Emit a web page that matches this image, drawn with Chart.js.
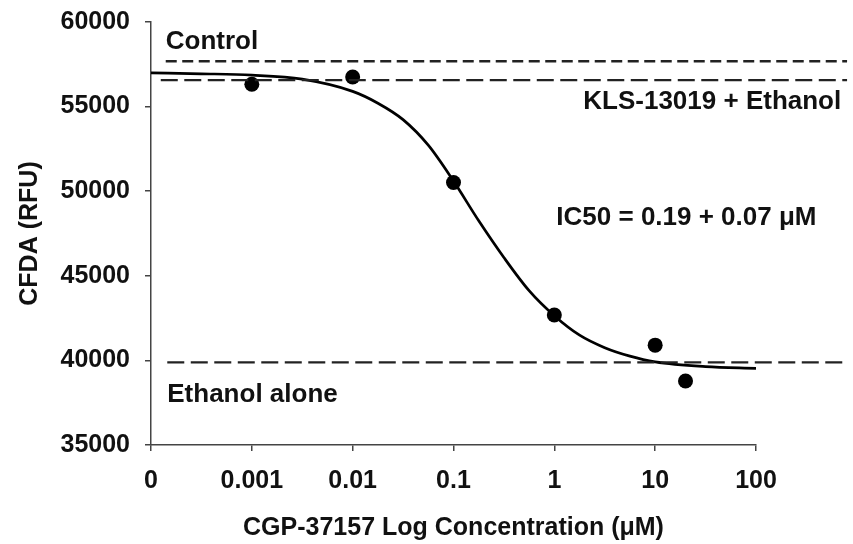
<!DOCTYPE html>
<html>
<head>
<meta charset="utf-8">
<script src="https://cdn.jsdelivr.net/npm/chart.js@4.4.1/dist/chart.umd.min.js"></script>
<style>
    html, body { margin: 0; padding: 0; background: #fff; }
    #wrap { width: 853px; height: 544px; }
</style>
</head>
<body>
<div id="wrap"><canvas id="ic50Chart" width="853" height="544"></canvas></div>
<script>
// concentrations in uM; the "0" dose is plotted one decade below 0.001
const ZERO_DOSE = 0.0001;

const doseConc = [0.001, 0.01, 0.1, 1, 10, 20];
const cfdaValues = [56320, 56750, 50510, 42680, 40900, 38780];

// fitted curve
const fitConc = [ZERO_DOSE, 0.000316, 0.001, 0.00316, 0.01, 0.0178, 0.0316, 0.0562, 0.1, 0.178, 0.316, 0.562, 1, 1.78, 3.16, 5.62, 10, 31.6, 100];
const fitValues = [56990, 56940, 56860, 56620, 55900, 55200, 54230, 52720, 50600, 48250, 46080, 44120, 42640, 41490, 40750, 40250, 39910, 39630, 39530];

// reference levels and how far they run along x
const controlLevel = 57680;
const klsLevel = 56560;
const ethanolLevel = 39880;
const controlSpan = [0.00014, 800];
const klsSpan = [0.000125, 800];
const ethanolSpan = [0.000145, 780];

const xTickValues = [ZERO_DOSE, 0.001, 0.01, 0.1, 1, 10, 100];
const xTickLabels = ['0', '0.001', '0.01', '0.1', '1', '10', '100'];
const yTickValues = [35000, 40000, 45000, 50000, 55000, 60000];

const FONT = '"Liberation Sans", Arial, sans-serif';

const refLabels = {
    id: 'refLabels',
    afterDatasetsDraw(chart) {
        const { ctx, scales: { x, y } } = chart;
        ctx.save();
        ctx.fillStyle = '#111';
        ctx.font = 'bold 26px ' + FONT;
        ctx.textBaseline = 'alphabetic';

        ctx.textAlign = 'left';
        ctx.fillText('Control', x.getPixelForValue(controlSpan[0]), y.getPixelForValue(controlLevel) - 12);
        ctx.fillText('Ethanol alone', x.getPixelForValue(ethanolSpan[0]), y.getPixelForValue(ethanolLevel) + 40);
        ctx.fillText('IC50 = 0.19 + 0.07 \u03BCM', x.getPixelForValue(1) + 2, y.getPixelForValue(48000));

        ctx.textAlign = 'right';
        ctx.fillText('KLS-13019 + Ethanol', x.getPixelForValue(700), y.getPixelForValue(klsLevel) + 29);
        ctx.restore();
    }
};

function refLine(level, span, dash) {
    return {
        label: 'ref',
        data: [{ x: span[0], y: level }, { x: span[1], y: level }],
        borderColor: '#222',
        borderWidth: 2.3,
        borderDash: dash,
        pointRadius: 0,
        fill: false,
        clip: false
    };
}

const ctx = document.getElementById('ic50Chart').getContext('2d');

new Chart(ctx, {
    type: 'line',
    data: {
        datasets: [
            refLine(controlLevel, controlSpan, [11, 5.5]),
            refLine(klsLevel, klsSpan, [17, 6.5]),
            refLine(ethanolLevel, ethanolSpan, [17, 6.5]),
            {
                label: 'Fit',
                data: fitConc.map((c, i) => ({ x: c, y: fitValues[i] })),
                borderColor: '#000',
                borderWidth: 2.7,
                pointRadius: 0,
                cubicInterpolationMode: 'monotone',
                fill: false
            },
            {
                label: 'CFDA',
                data: doseConc.map((c, i) => ({ x: c, y: cfdaValues[i] })),
                showLine: false,
                pointRadius: 7.5,
                pointBackgroundColor: '#000',
                pointBorderColor: '#000',
                pointBorderWidth: 0
            }
        ]
    },
    options: {
        responsive: false,
        animation: false,
        layout: { padding: { left: 0, right: 97, top: 22, bottom: 0 } },
        plugins: {
            legend: { display: false },
            tooltip: { enabled: false }
        },
        scales: {
            x: {
                type: 'logarithmic',
                min: ZERO_DOSE,
                max: 100,
                afterBuildTicks: (s) => { s.ticks = xTickValues.map(v => ({ value: v })); },
                afterFit: (s) => { s.height = 99; s.paddingLeft = 0; s.paddingRight = 0; },
                grid: { drawOnChartArea: false, drawTicks: true, tickLength: 6, color: '#444', lineWidth: 1.5 },
                border: { display: true, color: '#444', width: 1.5 },
                ticks: {
                    autoSkip: false,
                    maxRotation: 0,
                    padding: 15,
                    color: '#111',
                    font: { family: FONT, size: 25, weight: 'bold' },
                    callback: (v, i) => xTickLabels[i]
                },
                title: {
                    display: true,
                    text: 'CGP-37157 Log Concentration (\u03BCM)',
                    color: '#111',
                    font: { family: FONT, size: 25, weight: 'bold' },
                    padding: { top: 0, bottom: 1 }
                }
            },
            y: {
                min: 35000,
                max: 60000,
                afterBuildTicks: (s) => { s.ticks = yTickValues.map(v => ({ value: v })); },
                afterFit: (s) => { s.width = 151; s.paddingTop = 0; s.paddingBottom = 0; },
                grid: { drawOnChartArea: false, drawTicks: true, tickLength: 6, color: '#444', lineWidth: 1.5 },
                border: { display: true, color: '#444', width: 1.5 },
                ticks: {
                    padding: 15,
                    color: '#111',
                    font: { family: FONT, size: 25, weight: 'bold' },
                    callback: (v) => String(v)
                },
                title: {
                    display: true,
                    text: 'CFDA (RFU)',
                    color: '#111',
                    font: { family: FONT, size: 25, weight: 'bold' },
                    padding: { top: 15, bottom: 0 }
                }
            }
        }
    },
    plugins: [refLabels]
});
</script>
</body>
</html>
